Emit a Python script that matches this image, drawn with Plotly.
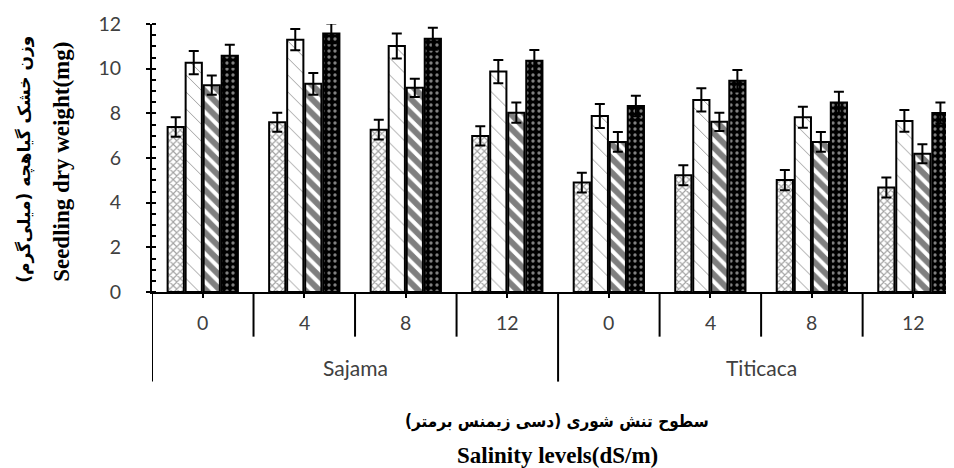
import plotly.graph_objects as go

# ---------------- data ----------------
groups = ["Sajama", "Titicaca"]
levels = ["0", "4", "8", "12"]
series_names = ["T1", "T2", "T3", "T4"]

t1 = [7.39, 7.60, 7.27, 6.99, 4.90, 5.23, 5.01, 4.68]
t2 = [10.27, 11.30, 11.01, 9.87, 7.88, 8.60, 7.83, 7.66]
t3 = [9.26, 9.32, 9.14, 8.03, 6.72, 7.62, 6.72, 6.19]
t4 = [10.58, 11.58, 11.34, 10.36, 8.33, 9.46, 8.48, 8.01]

e1 = [0.44, 0.43, 0.44, 0.43, 0.44, 0.45, 0.45, 0.45]
e2 = [0.52, 0.48, 0.56, 0.52, 0.54, 0.52, 0.47, 0.49]
e3 = [0.43, 0.49, 0.41, 0.45, 0.44, 0.41, 0.44, 0.43]
e4 = [0.49, 0.44, 0.49, 0.48, 0.46, 0.48, 0.49, 0.47]

y_title_fa = "وزن خشک گیاهچه (میلی‌گرم)"
y_title_en = "Seedling dry weight(mg)"
x_title_fa = "سطوح تنش شوری (دسی زیمنس برمتر)"
x_title_en = "Salinity levels(dS/m)"

# ---------------- figure ----------------
# the page body has an 8px default margin, so the figure is 8px smaller
W, H = 946, 460
n_cat = len(groups) * len(levels)
xpos = list(range(n_cat))
xlabels = levels * len(groups)

patterns = [
    dict(shape="x", size=5, solidity=0.4, fgcolor="#444444", bgcolor="white"),
    dict(shape="\\", size=12, solidity=0.08, fgcolor="#333333", bgcolor="white"),
    dict(shape="\\", size=10, solidity=0.6, fgcolor="black", bgcolor="white"),
    dict(shape=".", size=6, solidity=0.25, fgcolor="white", bgcolor="black"),
]

fig = go.Figure()
for name, vals, errs, pat in zip(series_names, [t1, t2, t3, t4], [e1, e2, e3, e4], patterns):
    fig.add_trace(go.Bar(
        x=xpos, y=vals, name=name, showlegend=False,
        marker=dict(color=pat["bgcolor"], line=dict(color="black", width=2), pattern=pat),
        error_y=dict(type="data", array=errs, visible=True, color="black", thickness=2, width=5),
    ))

tick_font = dict(family="Lato, Open Sans, sans-serif", size=19.5, color="#404040")
group_font = dict(family="Lato, Open Sans, sans-serif", size=21, color="#404040")

plot_l, plot_t, plot_h = 144, 16, 268.3
fig.update_layout(
    width=W, height=H,
    margin=dict(l=plot_l, r=0, t=plot_t, b=H - plot_t - plot_h),
    plot_bgcolor="white", paper_bgcolor="white",
    barmode="group", bargap=0.29, bargroupgap=0.1,
    xaxis=dict(
        range=[-0.5, 7.40], tickvals=xpos, ticktext=xlabels,
        showticklabels=False,
        showline=True, linecolor="black", linewidth=2,
        ticks="outside", ticklen=4, tickwidth=2, tickcolor="black",
        showgrid=False, zeroline=False,
    ),
    yaxis=dict(
        range=[0, 12], dtick=2, tick0=0,
        showline=True, linecolor="black", linewidth=2,
        ticks="outside", ticklen=4, tickwidth=2, tickcolor="black",
        minor=dict(dtick=0.5, ticks="inside", ticklen=4, tickwidth=2, tickcolor="black"),
        showgrid=False, zeroline=False,
        tickfont=tick_font, ticklabelstandoff=21,
    ),
)

def py(px):
    """pixel row of the reference (page coords) -> paper y"""
    return (plot_t + 8 + plot_h - px) / plot_h

def px_(x):
    pw = W - plot_l
    return (x - 8 - plot_l) / pw

shapes = []
annotations = []
for i, lab in enumerate(xlabels):
    annotations.append(dict(x=i, y=py(323), xref="x", yref="paper", text=lab, showarrow=False,
                            font=tick_font, xanchor="center", yanchor="middle"))
for g, name in enumerate(groups):
    cx = g * len(levels) + (len(levels) - 1) / 2
    annotations.append(dict(x=cx, y=py(368), xref="x", yref="paper", text=name, showarrow=False,
                            font=group_font, xanchor="center", yanchor="middle"))
for i in range(n_cat):
    b = i - 0.5
    y1 = py(382) if i % len(levels) == 0 else py(337)
    shapes.append(dict(type="line", xref="x", yref="paper", x0=b, x1=b, y0=0, y1=y1,
                       line=dict(color="black", width=2)))

cx_title = px_(557)
annotations.append(dict(x=cx_title, y=py(422), xref="paper", yref="paper", text="<b>" + x_title_fa + "</b>",
                        showarrow=False, font=dict(family="DejaVu Sans Condensed, DejaVu Sans", size=17, color="black"),
                        xanchor="center", yanchor="middle"))
annotations.append(dict(x=cx_title, y=py(456), xref="paper", yref="paper", text="<b>" + x_title_en + "</b>",
                        showarrow=False, font=dict(family="Liberation Serif", size=23, color="black"),
                        xanchor="center", yanchor="middle"))
annotations.append(dict(x=px_(25), y=py(160), xref="paper", yref="paper", text="<b>" + y_title_fa + "</b>",
                        showarrow=False, textangle=-90, font=dict(family="DejaVu Sans", size=17, color="black"),
                        xanchor="center", yanchor="middle"))
annotations.append(dict(x=px_(62), y=py(162), xref="paper", yref="paper", text="<b>" + y_title_en + "</b>",
                        showarrow=False, textangle=-90, font=dict(family="Liberation Serif", size=23, color="black"),
                        xanchor="center", yanchor="middle"))

fig.update_layout(shapes=shapes, annotations=annotations)
fig.write_html("out.html")
